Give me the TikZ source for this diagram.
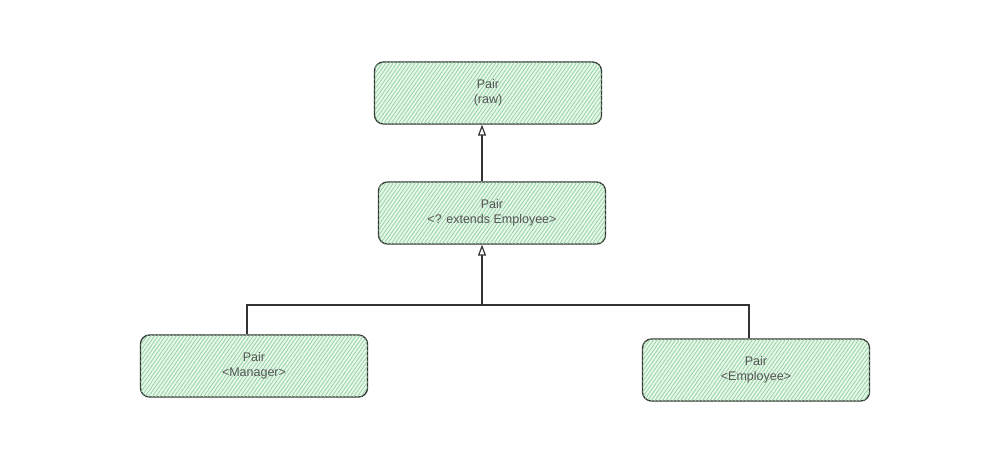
\documentclass[tikz,border=0pt]{standalone}
\usepackage{fontspec}
\setmainfont{Liberation Sans}
\usetikzlibrary{arrows.meta,patterns.meta}
\definecolor{hatch}{HTML}{8FD39C}
\definecolor{bgfill}{HTML}{E8F7EB}
\definecolor{edge}{HTML}{333333}
\definecolor{txt}{HTML}{555555}
\begin{document}
\begin{tikzpicture}[x=1pt,y=-1pt,
  classbox/.style={draw=edge, line width=1.3pt, rounded corners=9pt,
    minimum width=227pt, minimum height=62pt, inner sep=0pt,
    align=center, text=txt, font=\fontsize{12.5}{15.5}\selectfont,
    fill=bgfill, postaction={pattern={Lines[angle=55,distance=3pt,line width=0.75pt]}, pattern color=hatch}},
  conn/.style={draw=edge, line width=1.2pt},
  inh/.style={conn, -{Triangle[open, length=11pt, width=8pt, fill=white]}}]
\useasboundingbox (0,0) rectangle (987,452);
\fill[white] (0,0) rectangle (987,452);
\node[classbox] (raw) at (488,93) {\strut Pair\\\strut (raw)};
\node[classbox] (ext) at (492,213) {\strut Pair\\\strut <? extends Employee>};
\node[classbox] (mgr) at (254,366) {\strut Pair\\\strut <Manager>};
\node[classbox] (emp) at (756,370) {\strut Pair\\\strut <Employee>};
\coordinate (j) at (482,305);
\coordinate (jl) at (247,305);
\coordinate (jr) at (749,305);
\draw[inh] (ext.north -| j) -- (raw.south -| j);
\draw[inh] (j) -- (ext.south -| j);
\draw[conn] (mgr.north -| jl) -- (jl) -- (jr) -- (emp.north -| jr);
\end{tikzpicture}
\end{document}
